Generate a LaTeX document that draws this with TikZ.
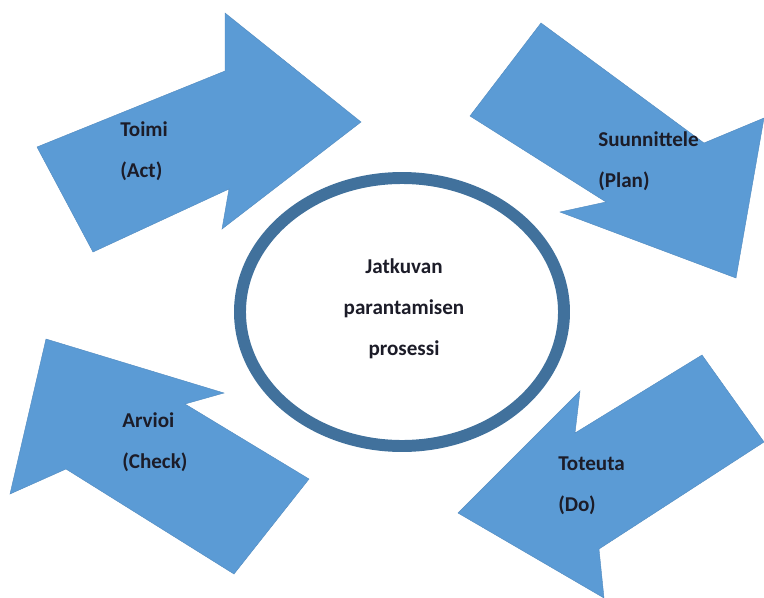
\documentclass[tikz,border=0pt]{standalone}
\usepackage{fontspec}
\setmainfont{Carlito}
\usepackage{tikz}
\usetikzlibrary{positioning}

\definecolor{arrowblue}{HTML}{5B9BD5}
\definecolor{ringblue}{HTML}{41719C}
\definecolor{labelink}{HTML}{1C1C28}

\begin{document}
\begin{tikzpicture}[
    x=0.025cm, y=-0.025cm,
    font=\fontsize{15}{29}\selectfont\bfseries,
    stagefill/.style={fill=arrowblue, draw=arrowblue!90!black, line width=0.3pt, line join=miter},
    stagelabel/.style={anchor=west, align=left, inner sep=0pt, text=labelink},
    ]

    \useasboundingbox (0,0) rectangle (764,598);

    % Define a macro to draw each block arrow of the cycle
    \newcommand{\stagearrow}[4]{
        % #1 name, #2 outline, #3 label position, #4 label
        \draw[stagefill] #2 -- cycle;
        \node[stagelabel] (#1) at #3 {#4};
    }

    % ==========================================
    % Draw Cycle Arrows
    % ==========================================
    \stagearrow{act}{(37,147) -- (225,71) -- (225,13) -- (361,122) -- (222,229) -- (229,189) -- (93,252)}{(120,151)}{Toimi \\ (Act)}
    \stagearrow{plan}{(541,23) -- (704,143) -- (764,118) -- (736,278) -- (560,212) -- (606,202) -- (470,116)}{(598,161)}{Suunnittele \\ (Plan)}
    \stagearrow{do}{(702,355) -- (764,442) -- (599,549) -- (604,598) -- (458,513) -- (580,391) -- (575,433)}{(558,486)}{Toteuta \\ (Do)}
    \stagearrow{check}{(309,479) -- (234,574) -- (66,469) -- (10,494) -- (46,339) -- (224,393) -- (185,404)}{(122,442)}{Arvioi \\ (Check)}

    % ==========================================
    % Draw Central Ring
    % ==========================================
    \coordinate (centre) at (402,312);
    \draw[ringblue, line width=8.5pt] (centre) ellipse [x radius=162, y radius=134];

    \node[align=center, inner sep=0pt, text=labelink] (process) at (404,309) {Jatkuvan \\ parantamisen \\ prosessi};

\end{tikzpicture}
\end{document}
